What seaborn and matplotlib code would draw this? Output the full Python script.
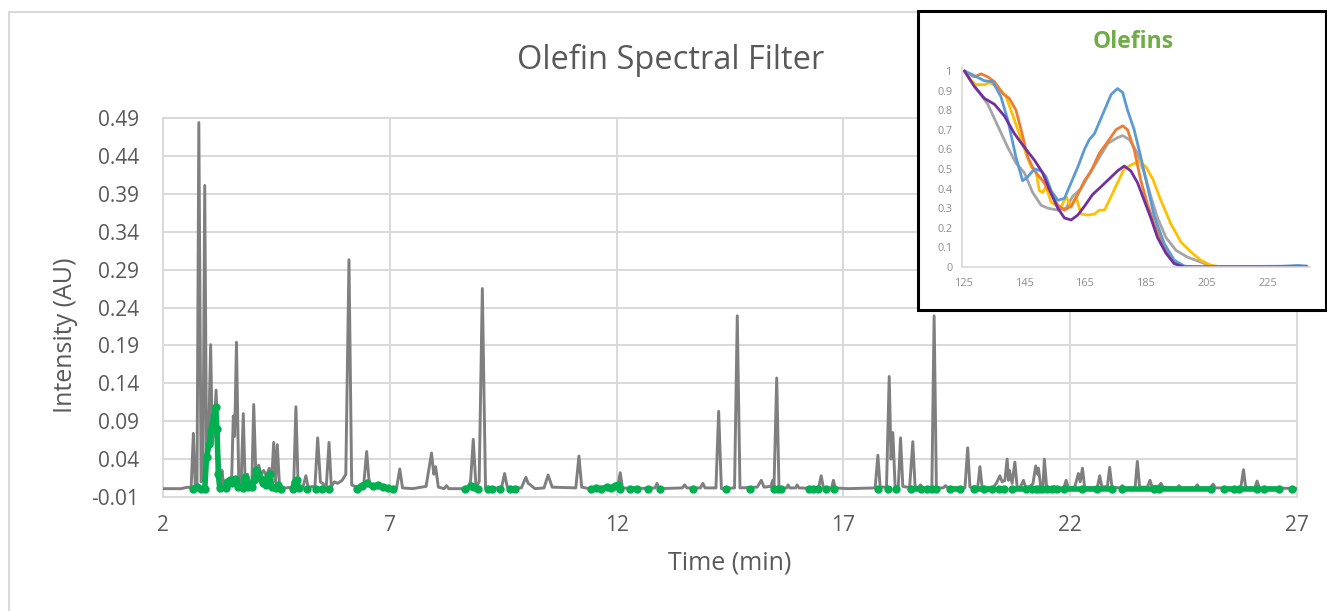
import matplotlib
matplotlib.use("Agg")
import matplotlib.pyplot as plt
from matplotlib.patches import Rectangle
from matplotlib.lines import Line2D
import numpy as np
import pandas as pd
import seaborn as sns

N = np.nan
# ---------------- data ----------------
# total chromatogram (time in min, intensity in AU)
grey_time = [2.00, 2.40, 2.55, 2.62, 2.67, 2.71, 2.75, 2.79, 2.84, 2.88, 2.92, 2.96, 3.00, 3.05, 3.09,
             3.13, 3.17, 3.22, 3.27, 3.30, 3.34, 3.45, 3.51, 3.55, 3.58, 3.62, 3.67, 3.72, 3.77, 3.81,
             3.86, 3.90, 3.96, 4.00, 4.05, 4.11, 4.16, 4.22, 4.28, 4.34, 4.39, 4.44, 4.48, 4.52, 4.57,
             4.70, 4.88, 4.93, 4.98, 5.08, 5.15, 5.20, 5.35, 5.41, 5.47, 5.60, 5.66, 5.71, 5.78, 5.85,
             5.95, 6.03, 6.10, 6.16, 6.30, 6.42, 6.49, 6.55, 6.70, 7.15, 7.22, 7.28, 7.50, 7.80, 7.92,
             7.97, 8.01, 8.07, 8.20, 8.25, 8.30, 8.70, 8.78, 8.84, 8.90, 8.97, 9.04, 9.11, 9.40, 9.47,
             9.53, 9.59, 9.90, 10.00, 10.05, 10.10, 10.20, 10.40, 10.49, 10.58, 11.10, 11.17, 11.23, 11.40, 12.02,
             12.08, 12.13, 12.40, 12.85, 12.89, 12.93, 13.45, 13.50, 13.55, 13.85, 13.90, 13.95, 14.19, 14.25, 14.31,
             14.60, 14.66, 14.72, 15.10, 15.19, 15.25, 15.40, 15.44, 15.47, 15.53, 15.58, 15.75, 15.78, 15.82, 15.95,
             15.98, 16.02, 16.45, 16.51, 16.56, 16.74, 16.78, 16.82, 17.10, 17.70, 17.76, 17.81, 17.95, 18.01, 18.05,
             18.09, 18.14, 18.21, 18.26, 18.31, 18.40, 18.46, 18.53, 18.58, 18.65, 18.70, 18.74, 18.95, 19.00, 19.05,
             19.20, 19.25, 19.30, 19.68, 19.74, 19.79, 19.85, 19.90, 19.96, 20.01, 20.06, 20.30, 20.38, 20.45, 20.50,
             20.56, 20.61, 20.64, 20.66, 20.72, 20.78, 20.83, 20.90, 20.97, 21.02, 21.12, 21.18, 21.24, 21.28, 21.30,
             21.35, 21.40, 21.43, 21.48, 21.60, 21.65, 21.70, 21.86, 21.91, 21.96, 22.10, 22.18, 22.22, 22.27, 22.32,
             22.60, 22.65, 22.70, 22.82, 22.87, 22.92, 23.10, 23.15, 23.20, 23.43, 23.48, 23.53, 23.70, 23.76, 23.80,
             23.95, 24.00, 24.05, 24.35, 24.40, 24.45, 24.75, 24.80, 24.85, 25.10, 25.15, 25.20, 25.76, 25.82, 25.87,
             26.07, 26.12, 26.17, 26.50, 27.00]
grey_int = [0.001, 0.001, 0.003, 0.002, 0.074, 0.004, 0.006, 0.484, 0.010, 0.012, 0.401, 0.040, 0.050, 0.191, 0.060,
            0.080, 0.131, 0.050, 0.012, 0.025, 0.004, 0.003, 0.006, 0.097, 0.070, 0.194, 0.010, 0.006, 0.100, 0.010,
            0.020, 0.008, 0.010, 0.112, 0.015, 0.032, 0.020, 0.025, 0.018, 0.028, 0.006, 0.062, 0.010, 0.059, 0.003,
            0.002, 0.003, 0.109, 0.003, 0.002, 0.018, 0.003, 0.004, 0.068, 0.010, 0.004, 0.062, 0.004, 0.010, 0.008,
            0.012, 0.020, 0.303, 0.006, 0.002, 0.003, 0.050, 0.005, 0.002, 0.002, 0.027, 0.002, 0.001, 0.004, 0.048,
            0.020, 0.030, 0.003, 0.001, 0.005, 0.001, 0.001, 0.010, 0.066, 0.003, 0.010, 0.265, 0.002, 0.002, 0.004,
            0.021, 0.003, 0.002, 0.016, 0.008, 0.006, 0.001, 0.002, 0.019, 0.003, 0.002, 0.044, 0.003, 0.001, 0.002,
            0.022, 0.002, 0.001, 0.002, 0.008, 0.001, 0.002, 0.006, 0.002, 0.002, 0.008, 0.002, 0.002, 0.103, 0.001,
            0.002, 0.229, 0.002, 0.003, 0.012, 0.003, 0.004, 0.012, 0.004, 0.147, 0.002, 0.002, 0.006, 0.002, 0.002,
            0.006, 0.002, 0.001, 0.018, 0.002, 0.002, 0.012, 0.002, 0.001, 0.002, 0.045, 0.003, 0.003, 0.149, 0.040,
            0.075, 0.004, 0.003, 0.068, 0.004, 0.003, 0.003, 0.063, 0.004, 0.002, 0.006, 0.002, 0.002, 0.229, 0.002,
            0.002, 0.005, 0.002, 0.002, 0.055, 0.003, 0.003, 0.004, 0.002, 0.030, 0.002, 0.002, 0.009, 0.018, 0.010,
            0.012, 0.040, 0.012, 0.025, 0.008, 0.036, 0.003, 0.003, 0.012, 0.002, 0.004, 0.008, 0.031, 0.020, 0.028,
            0.004, 0.004, 0.040, 0.003, 0.002, 0.004, 0.002, 0.002, 0.012, 0.002, 0.003, 0.021, 0.010, 0.028, 0.002,
            0.003, 0.018, 0.003, 0.004, 0.029, 0.003, 0.002, 0.005, 0.002, 0.002, 0.037, 0.003, 0.003, 0.012, 0.004,
            0.004, 0.008, 0.003, 0.002, 0.005, 0.002, 0.002, 0.006, 0.002, 0.002, 0.007, 0.002, 0.002, 0.026, 0.002,
            0.002, 0.011, 0.002, 0.002, 0.001]

# olefin-filtered signal; NaN separates the drawn stretches
olefin_time = [2.66, 2.74, 2.84, N,
               2.92, 2.96, 3.02, 3.06, 3.12, 3.16, 3.19, 3.22, 3.25, N,
               3.38, 3.42, 3.47, 3.52, 3.58, 3.62, 3.66, N,
               3.77, 3.80, 3.84, 3.88, N,
               3.96, 4.01, 4.06, 4.10, 4.15, 4.20, 4.26, 4.32, 4.36, 4.40, N,
               4.50, 4.54, 4.60, N,
               4.86, 4.90, 4.95, 4.99, N,
               5.17, N, 5.38, N, 5.50, N, 5.67, N,
               6.27, 6.38, 6.50, 6.62, 6.74, 6.86, 6.96, 7.07, N,
               8.66, 8.78, 8.86, 8.94, N,
               9.16, 9.25, N, 9.42, N, 9.64, 9.75, N,
               11.44, 11.55, 11.66, 11.78, 11.88, 11.96, 12.02, 12.07, N,
               12.29, 12.46, N, 12.69, N, 12.95, N, 13.68, N, 14.42, N, 14.93, N,
               15.48, 15.56, 15.63, N,
               16.25, 16.34, 16.43, N, 16.62, N, 16.80, N, 17.77, N, 17.98, N, 18.16, N,
               18.50, 18.70, N, 18.85, 18.95, 19.05, N, 19.34, 19.56, N,
               19.89, 20.10, 20.28, N, 20.44, 20.55, N, 20.72, 21.03, N,
               21.16, 21.24, 21.31, 21.38, N, 21.49, 21.60, 21.71, N,
               21.87, 22.25, 22.60, 22.93, N, 23.15, 23.85, N, 23.96, 25.11, N,
               25.39, 25.61, N, 25.72, 26.12, N, 26.27, 26.60, N, 26.90]
olefin_int = [0.000, 0.003, 0.000, N,
              0.000, 0.043, 0.060, 0.079, 0.095, 0.109, 0.080, 0.020, 0.002, N,
              0.002, 0.010, 0.012, 0.008, 0.014, 0.012, 0.003, N,
              0.002, 0.016, 0.010, 0.003, N,
              0.003, 0.012, 0.026, 0.020, 0.014, 0.008, 0.006, 0.018, 0.020, 0.003, N,
              0.002, 0.006, 0.001, N,
              0.001, 0.010, 0.012, 0.002, N,
              0.000, N, 0.000, N, 0.000, N, 0.000, N,
              0.001, 0.005, 0.008, 0.004, 0.006, 0.003, 0.002, 0.000, N,
              0.000, 0.004, 0.003, 0.000, N,
              0.000, 0.000, N, 0.000, N, 0.000, 0.000, N,
              0.000, 0.002, 0.001, 0.003, 0.002, 0.004, 0.006, 0.001, N,
              0.000, 0.000, N, 0.000, N, 0.000, N, 0.000, N, 0.000, N, 0.000, N,
              0.000, 0.001, 0.000, N,
              0.000, 0.001, 0.000, N, 0.000, N, 0.000, N, 0.000, N, 0.000, N, 0.000, N,
              0.000, 0.000, N, 0.000, 0.000, 0.000, N, 0.000, 0.000, N,
              0.000, 0.001, 0.000, N, 0.000, 0.000, N, 0.000, 0.000, N,
              0.000, 0.000, 0.000, 0.000, N, 0.000, 0.000, 0.000, N,
              0.000, 0.000, 0.000, 0.000, N, 0.000, 0.000, N, 0.000, 0.000, N,
              0.000, 0.000, N, 0.000, 0.000, N, 0.000, 0.000, N, 0.000]

y_ticks = [-0.01, 0.04, 0.09, 0.14, 0.19, 0.24, 0.29, 0.34, 0.39, 0.44, 0.49]
y_tick_labels = ["-0.01", "0.04", "0.09", "0.14", "0.19", "0.24", "0.29", "0.34", "0.39", "0.44", "0.49"]
x_ticks = [2, 7, 12, 17, 22, 27]

# inset: normalised UV spectra (wavelength nm, absorbance)
blue_wl = [125, 127.7, 131.6, 134.3, 137, 139.3, 142, 144.2, 145.9, 148.1, 150.3, 151.9, 153.6, 155.8, 158,
           160.2, 162.4, 164.6, 166.2, 167.9, 171.2, 173.4, 175.5, 177.2, 178.8, 181, 183.2, 185.4, 187.6,
           190.9, 194.2, 197.5, 200.8, 210, 220, 230, 235, 238]
blue_ab = [1.0, 0.98, 0.95, 0.945, 0.87, 0.75, 0.56, 0.44, 0.46, 0.50, 0.49, 0.46, 0.39, 0.34, 0.35,
           0.43, 0.51, 0.60, 0.65, 0.68, 0.80, 0.88, 0.91, 0.89, 0.80, 0.70, 0.56, 0.41, 0.26,
           0.12, 0.035, 0.005, 0.0, 0.002, 0.003, 0.004, 0.008, 0.005]
orange_wl = [125, 128.3, 130.5, 132.7, 134.9, 137.6, 139.8, 142, 143.7, 145.9, 148.1, 150.8, 153.6, 155.8,
             158, 160.2, 162.4, 164.6, 166.8, 169.5, 172.3, 175, 177.2, 178.8, 181, 183.2, 185.4, 187.6,
             190.9, 194.2, 197.5, 205, 238]
orange_ab = [1.0, 0.97, 0.985, 0.97, 0.945, 0.885, 0.86, 0.80, 0.70, 0.56, 0.49, 0.44, 0.375, 0.315,
             0.29, 0.31, 0.37, 0.44, 0.49, 0.58, 0.64, 0.70, 0.72, 0.70, 0.60, 0.44, 0.32, 0.22,
             0.10, 0.025, 0.003, 0.0, 0.0]
grey_wl = [125, 127.2, 129.4, 132.7, 136, 139.3, 142, 144.8, 147.5, 150.3, 152.5, 155.8, 158.5, 160.7,
           163.5, 165.7, 169, 172.3, 175.5, 177.2, 179.4, 182.1, 184.3, 186.5, 188.7, 191.5, 194.8, 198.6,
           203, 206.3, 212, 238]
grey_ab = [1.0, 0.95, 0.90, 0.83, 0.72, 0.61, 0.53, 0.48, 0.38, 0.315, 0.30, 0.29, 0.30, 0.36,
           0.40, 0.46, 0.545, 0.63, 0.66, 0.67, 0.65, 0.58, 0.48, 0.36, 0.25, 0.15, 0.085, 0.05,
           0.025, 0.005, 0.0, 0.0]
yellow_wl = [125, 126.6, 128.8, 131.6, 133.2, 136, 138.7, 141.5, 143.7, 145.3, 147, 148.6, 149.7, 150.8,
             151.9, 153.6, 155.2, 156.9, 158.5, 160.2, 161.8, 163.5, 165.7, 167.9, 169.5, 171.2, 173.4,
             175.5, 177.7, 179.9, 182.7, 184.9, 187.1, 189.8, 193.1, 196.4, 199.7, 203, 206.3, 209.6, 238]
yellow_ab = [1.0, 0.96, 0.93, 0.93, 0.94, 0.92, 0.87, 0.75, 0.65, 0.58, 0.51, 0.49, 0.39, 0.38,
             0.41, 0.33, 0.315, 0.305, 0.36, 0.305, 0.36, 0.27, 0.265, 0.27, 0.29, 0.29, 0.36,
             0.43, 0.50, 0.52, 0.54, 0.51, 0.45, 0.34, 0.22, 0.128, 0.077, 0.034, 0.009, 0.0, 0.0]
purple_wl = [125, 128.3, 131.6, 134.9, 138.2, 141.5, 144.8, 148.1, 150.8, 153.6, 155.8, 158, 160.2, 162.4,
             164.6, 167.3, 170.1, 172.8, 175.5, 177.7, 179.9, 182.1, 184.3, 186.5, 188.7, 191.5, 194.2,
             197.5, 238]
purple_ab = [1.0, 0.92, 0.86, 0.83, 0.77, 0.68, 0.61, 0.545, 0.48, 0.375, 0.30, 0.25, 0.24, 0.265,
             0.31, 0.37, 0.41, 0.45, 0.49, 0.515, 0.49, 0.43, 0.34, 0.25, 0.15, 0.07, 0.017,
             0.0, 0.0]
inset_x_ticks = [125, 145, 165, 185, 205, 225]
inset_y_ticks = [0, 0.1, 0.2, 0.3, 0.4, 0.5, 0.6, 0.7, 0.8, 0.9, 1]
inset_y_labels = ["0", "0.1", "0.2", "0.3", "0.4", "0.5", "0.6", "0.7", "0.8", "0.9", "1"]

# ---------------- style ----------------
sns.set_theme(style="white")
plt.rcParams['font.family'] = ['Open Sans', 'DejaVu Sans']
TXT = '#595959'
GRID = '#d9d9d9'

W, H = 1327, 611
fig = plt.figure(figsize=(W / 100, H / 100), dpi=100)
fig.patch.set_facecolor('white')

def fx(px):
    return px / W

def fy(py):
    return 1 - py / H

# outer chart frame (left and top edges visible)
fig.add_artist(Line2D([fx(9), fx(9)], [fy(12), fy(611)], color=GRID, lw=1.5))
fig.add_artist(Line2D([fx(9), fx(1320)], [fy(12), fy(12)], color=GRID, lw=1.5))

# ---------------- main axes ----------------
ax = fig.add_axes([fx(163), fy(497), fx(1297) - fx(163), fy(118) - fy(497)])
df_grey = pd.DataFrame({"time": grey_time, "intensity": grey_int})
sns.lineplot(data=df_grey, x="time", y="intensity", ax=ax, color='#7f7f7f', lw=2.1,
             sort=False, estimator=None, zorder=3)

ot = np.array(olefin_time, dtype=float)
oi = np.array(olefin_int, dtype=float)
seg = np.cumsum(np.isnan(ot))
df_ol = pd.DataFrame({"seg": seg, "time": ot, "intensity": oi}).dropna()
sns.lineplot(data=df_ol, x="time", y="intensity", units="seg", estimator=None, ax=ax,
             color='#00b050', lw=4.0, marker='o', markersize=6, markeredgewidth=0,
             sort=False, zorder=4, solid_capstyle='round')

ax.set_xlim(2, 27)
ax.set_ylim(-0.01, 0.49)
ax.set_xticks(x_ticks)
ax.set_xticklabels([str(t) for t in x_ticks])
ax.set_yticks(y_ticks)
ax.set_yticklabels(y_tick_labels)
ax.grid(True, color=GRID, lw=1.4)
ax.set_axisbelow(True)
for s in ax.spines.values():
    s.set_color(GRID)
    s.set_linewidth(1.4)
ax.tick_params(axis='both', length=0, labelsize=15, colors=TXT)
ax.tick_params(axis='y', pad=17)
ax.tick_params(axis='x', pad=13)
ax.set_xlabel("Time (min)", fontsize=18, color=TXT)
ax.set_ylabel("Intensity (AU)", fontsize=18, color=TXT)
ax.xaxis.set_label_coords((730 - 163) / (1297 - 163), -(563 - 497) / (497 - 118))
ax.yaxis.set_label_coords(-(163 - 66) / (1297 - 163), (497 - 335) / (497 - 118))
ax.xaxis.label.set_va('center')
ax.yaxis.label.set_va('center')

fig.text(fx(671), fy(60), "Olefin Spectral Filter", ha='center', va='center',
         fontsize=23.5, color=TXT)

# ---------------- inset ----------------
fig.add_artist(Rectangle((fx(918), fy(310)), fx(1326) - fx(918), fy(11) - fy(310),
                         transform=fig.transFigure, facecolor='white', edgecolor='black',
                         lw=2.2, zorder=5))
iax = fig.add_axes([fx(962), fy(267), fx(1310) - fx(962), fy(67) - fy(267)], zorder=6)
iax.set_facecolor('none')
for wl, ab, col in [(grey_wl, grey_ab, '#a5a5a5'), (yellow_wl, yellow_ab, '#ffc000'),
                    (orange_wl, orange_ab, '#ed7d31'), (blue_wl, blue_ab, '#5b9bd5'),
                    (purple_wl, purple_ab, '#7030a0')]:
    sns.lineplot(x=wl, y=ab, ax=iax, color=col, lw=2.0, sort=False, estimator=None)
iax.set_xlim(124.2, 239)
iax.set_ylim(0, 1.02)
iax.set_xticks(inset_x_ticks)
iax.set_xticklabels([str(t) for t in inset_x_ticks])
iax.set_yticks(inset_y_ticks)
iax.set_yticklabels(inset_y_labels)
for side in ['top', 'right']:
    iax.spines[side].set_visible(False)
for side in ['left', 'bottom']:
    iax.spines[side].set_color(GRID)
    iax.spines[side].set_linewidth(1.2)
iax.tick_params(axis='both', length=0, labelsize=7.8, colors='#8c8c8c')
iax.tick_params(axis='y', pad=7)
iax.tick_params(axis='x', pad=8)
iax.set_xlabel("")
iax.set_ylabel("")
fig.text(fx(1133), fy(42), "Olefins", ha='center', va='center', fontsize=16.5,
         fontweight='bold', color='#70ad47', zorder=7)

fig.savefig("out.png", dpi=100, facecolor='white')
